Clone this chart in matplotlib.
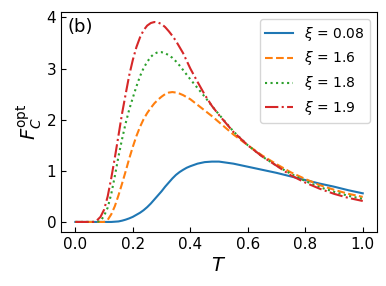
import numpy as np
import matplotlib.pyplot as plt

T = [0.0, 0.025, 0.05, 0.0625, 0.075, 0.0875, 0.1, 0.1125, 0.125, 0.1375,
     0.15, 0.1625, 0.175, 0.1875, 0.2, 0.2125, 0.225, 0.2375, 0.25, 0.2625,
     0.275, 0.2875, 0.3, 0.3125, 0.325, 0.3375, 0.35, 0.3625,
     0.375, 0.3875, 0.4, 0.425, 0.45, 0.475, 0.5,
     0.55, 0.6, 0.65, 0.7, 0.75, 0.8, 0.85, 0.9, 0.95, 1.0]

F_008 = [0.0, 0.0, 0.0, 0.0, 0.0, 0.0, 0.0, 0.0, 0.0, 0.005,
         0.01, 0.025, 0.045, 0.07, 0.10, 0.14, 0.18, 0.23, 0.29, 0.36,
         0.44, 0.52, 0.60, 0.69, 0.77, 0.85, 0.92, 0.975,
         1.02, 1.06, 1.09, 1.14, 1.17, 1.18, 1.18,
         1.14, 1.08, 1.02, 0.96, 0.89, 0.82, 0.75, 0.69, 0.62, 0.56]
F_16 = [0.0, 0.0, 0.0, 0.0, 0.0, 0.0, 0.0, 0.04, 0.15, 0.31,
        0.52, 0.75, 0.99, 1.24, 1.47, 1.68, 1.86, 2.01, 2.13, 2.23,
        2.32, 2.39, 2.45, 2.50, 2.53, 2.54, 2.53, 2.51,
        2.48, 2.44, 2.40, 2.29, 2.18, 2.07, 1.95,
        1.71, 1.50, 1.30, 1.13, 0.97, 0.84, 0.72, 0.63, 0.55, 0.49]
F_18 = [0.0, 0.0, 0.0, 0.0, 0.0, 0.02, 0.12, 0.28, 0.55, 0.90,
        1.28, 1.62, 1.93, 2.20, 2.43, 2.65, 2.85, 3.01, 3.13, 3.23,
        3.29, 3.32, 3.32, 3.30, 3.26, 3.21, 3.14, 3.06,
        2.97, 2.88, 2.79, 2.62, 2.45, 2.27, 2.10,
        1.77, 1.50, 1.28, 1.10, 0.94, 0.80, 0.68, 0.59, 0.51, 0.45]
F_19 = [0.0, 0.0, 0.0, 0.0, 0.03, 0.10, 0.24, 0.50, 0.86, 1.26,
        1.69, 2.12, 2.50, 2.87, 3.17, 3.42, 3.61, 3.75, 3.84, 3.89,
        3.91, 3.90, 3.87, 3.81, 3.73, 3.64, 3.54, 3.42,
        3.30, 3.15, 3.00, 2.74, 2.49, 2.27, 2.09,
        1.76, 1.50, 1.28, 1.10, 0.91, 0.77, 0.65, 0.55, 0.47, 0.41]

labels = [r'$\xi$ = 0.08', r'$\xi$ = 1.6', r'$\xi$ = 1.8', r'$\xi$ = 1.9']
styles = ['-', '--', ':', '-.']

fig = plt.figure(figsize=(3.86, 2.86), dpi=100)
ax = fig.add_axes([0.158, 0.189, 0.819, 0.769])

for F, lab, ls in zip([F_008, F_16, F_18, F_19], labels, styles):
    ax.plot(T, F, ls, lw=1.5, label=lab)

ax.set_xticks([0.0, 0.2, 0.4, 0.6, 0.8, 1.0])
ax.set_yticks([0, 1, 2, 3, 4])
ax.tick_params(direction='in', labelsize=11)
ax.set_xlabel(r'$T$', fontsize=14, labelpad=3)
ax.set_ylabel(r'$F_C^{\rm opt}$', fontsize=14, labelpad=2)
ax.text(0.02, 0.93, '(b)', transform=ax.transAxes, fontsize=13, va='center')
ax.legend(loc='upper right', fontsize=10)

fig.savefig('out.png', dpi=100)
